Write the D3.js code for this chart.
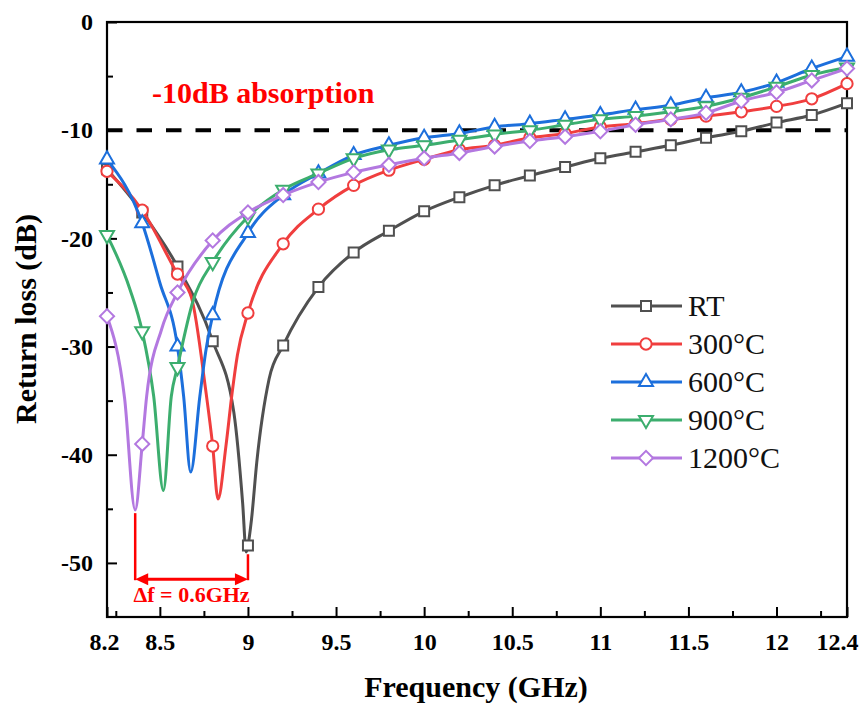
<!DOCTYPE html>
<html>
<head>
<meta charset="utf-8">
<script src="https://cdn.jsdelivr.net/npm/d3@7"></script>
<style>
  body { margin: 0; background: #fff; }
  svg { display: block; font-family: "Liberation Serif", "Times New Roman", serif; }
</style>
</head>
<body>
<svg width="859" height="707"></svg>
<script>
// marker frequencies (GHz), one marker every 0.2 GHz
var freqs = [8.2, 8.4, 8.6, 8.8, 9.0, 9.2, 9.4, 9.6, 9.8, 10.0, 10.2, 10.4, 10.6, 10.8, 11.0, 11.2, 11.4, 11.6, 11.8, 12.0, 12.2, 12.4];

// return loss (dB) at the marker frequencies
var rt    = [-13.6, -17.6, -22.6, -29.5, -48.4, -29.9, -24.5, -21.3, -19.3, -17.5, -16.2, -15.1, -14.2, -13.4, -12.6, -12.0, -11.4, -10.7, -10.1, -9.3, -8.6, -7.5];
var t300  = [-13.8, -17.4, -23.3, -39.2, -26.9, -20.5, -17.3, -15.1, -13.7, -12.7, -11.8, -11.4, -10.7, -10.3, -9.7, -9.4, -9.0, -8.7, -8.3, -7.8, -7.1, -5.7];
var t600  = [-12.7, -18.6, -30.0, -27.1, -19.5, -16.0, -14.0, -12.3, -11.4, -10.7, -10.3, -9.7, -9.4, -9.0, -8.6, -8.1, -7.7, -7.0, -6.5, -5.6, -4.3, -3.2];
var t900  = [-19.7, -28.6, -31.9, -22.2, -18.0, -15.5, -14.0, -12.6, -11.8, -11.4, -10.9, -10.4, -10.0, -9.5, -9.0, -8.7, -8.3, -7.8, -7.0, -6.0, -4.9, -4.2];
var t1200 = [-27.2, -39.0, -25.0, -20.2, -17.6, -16.0, -14.8, -13.9, -13.2, -12.6, -12.1, -11.5, -11.0, -10.6, -10.1, -9.5, -9.0, -8.4, -7.3, -6.5, -5.4, -4.3];

// extra points read along the curves around each absorption peak [GHz, dB]
var rtDip    = [[8.92, -36.1], [8.97, -44.5], [8.99, -49.0], [9.02, -46.0], [9.05, -40.7], [9.12, -33.0]];
var t300Dip  = [[8.68, -25.5], [8.76, -34.0], [8.83, -44.1], [8.875, -39.2], [8.91, -34.3], [8.94, -30.8]];
var t600Dip  = [[8.5, -24.1], [8.635, -34.6], [8.675, -41.6], [8.727, -34.6], [8.76, -30.5]];
var t900Dip  = [[8.33, -24.7], [8.465, -34.6], [8.52, -43.3], [8.565, -34.6], [8.69, -25.7]];
var t1200Dip = [[8.3, -34.8], [8.36, -45.1], [8.425, -34.6], [8.51, -28.4]];

var names  = ["RT", "300°C", "600°C", "900°C", "1200°C"];
var colors = ["#505050", "#f03e3e", "#1c6fdc", "#3cae6e", "#b378e0"];

var xTickLabels = [8.2, 8.5, 9, 9.5, 10, 10.5, 11, 11.5, 12, 12.4];
var xMinorTicks = [8.25, 8.75, 9.25, 9.75, 10.25, 10.75, 11.25, 11.75, 12.25];
var yTickLabels = [0, -10, -20, -30, -40, -50];
var yMinorTicks = [-5, -15, -25, -35, -45];

var svg = d3.select("svg"),
    margin = {top: 22, right: 12, bottom: 90, left: 107},
    width = +svg.attr("width") - margin.left - margin.right,
    height = +svg.attr("height") - margin.top - margin.bottom;

var x = d3.scaleLinear().domain([8.2, 12.4]).range([0, width]),
    y = d3.scaleLinear().domain([-55, 0]).range([height, 0]);

var g = svg.append("g")
    .attr("transform", "translate(" + margin.left + "," + margin.top + ")");

// axes, ticks pointing inward
var xAxis = g.append("g")
    .attr("transform", "translate(0," + height + ")")
    .call(d3.axisBottom(x).tickValues(xTickLabels).tickSize(-10).tickPadding(16)
      .tickFormat(function(d) { return String(d); }));
g.append("g")
    .attr("transform", "translate(0," + height + ")")
    .call(d3.axisBottom(x).tickValues(xMinorTicks).tickSize(-6).tickFormat(""));
xAxis.selectAll("text").filter(function(d) { return d === 12.4; }).attr("dx", -10);
xAxis.selectAll("text").filter(function(d) { return d === 8.2; }).attr("dx", -3);

g.append("g")
    .call(d3.axisLeft(y).tickValues(yTickLabels).tickSize(-10).tickPadding(14)
      .tickFormat(function(d) { return String(d); }));
g.append("g")
    .call(d3.axisLeft(y).tickValues(yMinorTicks).tickSize(-6).tickFormat(""));

g.selectAll(".domain").remove();
g.selectAll(".tick line").attr("stroke", "#000").attr("stroke-width", 2);
g.selectAll(".tick text")
    .attr("fill", "#000")
    .style("font-family", "'Liberation Serif', serif")
    .style("font-size", "24px")
    .style("font-weight", "bold");

g.append("rect")
    .attr("width", width)
    .attr("height", height)
    .attr("fill", "none")
    .attr("stroke", "#000")
    .attr("stroke-width", 2.2);

// -10 dB reference line
g.append("line")
    .attr("x1", 0).attr("x2", width)
    .attr("y1", y(-10)).attr("y2", y(-10))
    .attr("stroke", "#000")
    .attr("stroke-width", 4)
    .attr("stroke-dasharray", "15.5,14");

g.append("text")
    .attr("x", 45)
    .attr("y", 81)
    .attr("fill", "#ff0000")
    .style("font-size", "30px")
    .style("font-weight", "bold")
    .text("-10dB absorption");

// series
var series = [
  {vals: rt, dip: rtDip, shape: "square"},
  {vals: t300, dip: t300Dip, shape: "circle"},
  {vals: t600, dip: t600Dip, shape: "up"},
  {vals: t900, dip: t900Dip, shape: "down"},
  {vals: t1200, dip: t1200Dip, shape: "diamond"}
];

function marker(sel, shape, color) {
  if (shape === "square") {
    sel.append("path").attr("d", d3.symbol(d3.symbolSquare, 100)());
  } else if (shape === "circle") {
    sel.append("path").attr("d", d3.symbol(d3.symbolCircle, 100)());
  } else if (shape === "up") {
    sel.append("path").attr("d", d3.symbol(d3.symbolTriangle, 85)());
  } else if (shape === "down") {
    sel.append("path").attr("d", d3.symbol(d3.symbolTriangle, 85)()).attr("transform", "rotate(180)");
  } else {
    sel.append("path").attr("d", d3.symbol(d3.symbolSquare, 100)()).attr("transform", "rotate(45)");
  }
  sel.selectAll("path")
    .attr("fill", "#fff")
    .attr("stroke", color)
    .attr("stroke-width", 2);
}

var line = d3.line()
    .x(function(d) { return x(d[0]); })
    .y(function(d) { return y(d[1]); })
    .curve(d3.curveMonotoneX);

series.forEach(function(s, i) {
  var pts = freqs.map(function(f, j) { return [f, s.vals[j]]; })
    .concat(s.dip)
    .sort(function(a, b) { return a[0] - b[0]; });

  g.append("path")
    .datum(pts)
    .attr("fill", "none")
    .attr("stroke", colors[i])
    .attr("stroke-width", 3)
    .attr("d", line);

  g.selectAll(".m" + i)
    .data(freqs)
    .enter().append("g")
      .attr("class", "m" + i)
      .attr("transform", function(f, j) { return "translate(" + x(f) + "," + y(s.vals[j]) + ")"; })
      .each(function() { marker(d3.select(this), s.shape, colors[i]); });
});

// delta f annotation
var red = "#ff0000";
g.append("line")
    .attr("x1", x(8.36)).attr("x2", x(8.36))
    .attr("y1", y(-45.4)).attr("y2", y(-51.6))
    .attr("stroke", red).attr("stroke-width", 2.5);
g.append("line")
    .attr("x1", x(9.0)).attr("x2", x(9.0))
    .attr("y1", y(-49.2)).attr("y2", y(-51.6))
    .attr("stroke", red).attr("stroke-width", 2.5);
g.append("line")
    .attr("x1", x(8.36) + 8).attr("x2", x(9.0) - 8)
    .attr("y1", y(-51.5)).attr("y2", y(-51.5))
    .attr("stroke", red).attr("stroke-width", 3);
[[x(8.36), 1], [x(9.0), -1]].forEach(function(a) {
  var ay = y(-51.5);
  g.append("path")
    .attr("d", "M" + a[0] + "," + ay + "L" + (a[0] + a[1] * 13) + "," + (ay - 6) +
               "L" + (a[0] + a[1] * 13) + "," + (ay + 6) + "Z")
    .attr("fill", red);
});
g.append("text")
    .attr("x", (x(8.36) + x(9.0)) / 2)
    .attr("y", 580)
    .attr("text-anchor", "middle")
    .attr("fill", red)
    .style("font-size", "22px")
    .style("font-weight", "bold")
    .text("\u0394f = 0.6GHz");

// legend
var legend = g.append("g").attr("transform", "translate(504,284)");
names.forEach(function(n, i) {
  var row = legend.append("g").attr("transform", "translate(0," + (i * 38) + ")");
  row.append("line")
      .attr("x1", 0).attr("x2", 71)
      .attr("stroke", colors[i]).attr("stroke-width", 3);
  var m = row.append("g").attr("transform", "translate(35,0)");
  marker(m, series[i].shape, colors[i]);
  row.append("text")
      .attr("x", 77)
      .attr("y", 10)
      .attr("fill", "#111")
      .style("font-size", "30px")
      .text(n);
});

// axis titles
svg.append("text")
    .attr("x", 476)
    .attr("y", 697)
    .attr("text-anchor", "middle")
    .style("font-size", "30px")
    .style("font-weight", "bold")
    .text("Frequency (GHz)");

svg.append("text")
    .attr("transform", "translate(36,319) rotate(-90)")
    .attr("text-anchor", "middle")
    .style("font-size", "30px")
    .style("font-weight", "bold")
    .text("Return loss (dB)");
</script>
</body>
</html>
